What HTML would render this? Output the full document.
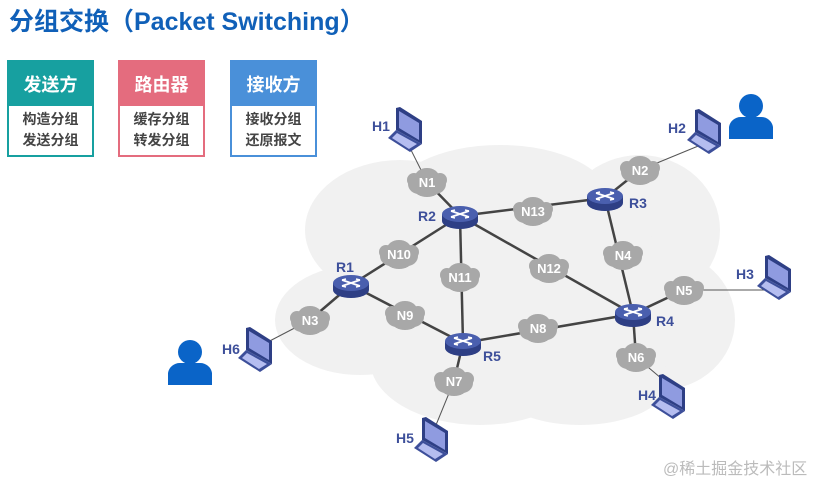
<!DOCTYPE html>
<html><head><meta charset="utf-8"><style>
html,body{margin:0;padding:0;background:#fff;}
body{width:837px;height:497px;overflow:hidden;font-family:"Liberation Sans","Noto Sans CJK SC",sans-serif;}
</style></head><body>
<svg width="837" height="497" viewBox="0 0 837 497" xmlns="http://www.w3.org/2000/svg" font-family="Liberation Sans, Noto Sans CJK SC, sans-serif">
<defs>
<g id="cl">
<ellipse cx="-8" cy="2" rx="11" ry="10" fill="#a8a8a8"/>
<ellipse cx="8" cy="2" rx="11" ry="10" fill="#a8a8a8"/>
<ellipse cx="0" cy="-5" rx="12" ry="9" fill="#a8a8a8"/>
<ellipse cx="0" cy="7" rx="13" ry="8" fill="#a8a8a8"/>
<ellipse cx="-13" cy="-2" rx="7" ry="7" fill="#a8a8a8"/>
<ellipse cx="13" cy="-2" rx="7" ry="7" fill="#a8a8a8"/>
</g>
<g id="rt">
<path d="M-18 0 v7 a18 8 0 0 0 36 0 v-7z" fill="#2e3f85"/>
<ellipse cx="0" cy="0" rx="18" ry="8" fill="#4a5fae"/>
<path d="M-9 -3 L9 3 M-9 3 L9 -3" stroke="#fff" stroke-width="1.8"/>
<path d="M9 -3 l-4 -1 M9 3 l-4 1 M-9 -3 l4 -1 M-9 3 l4 1" stroke="#fff" stroke-width="1.5"/>
</g>
<g id="lp">
<path d="M-10 -22 L-6 -23 L16 -9 L16 14 L-10 0 Z" fill="#2e3f85"/>
<path d="M-7 -19 L13 -7 L13 10 L-7 -2 Z" fill="#8f9be0"/>
<path d="M-10 0 L16 14 L4 22 L-18 8 Z" fill="#3d4f9a"/>
<path d="M-9 3 L11 14 L3 19 L-14 8 Z" fill="#b5bdf0"/>
</g>
<g id="ps">
<circle cx="0" cy="-11" r="12" fill="#0a64c8"/>
<path d="M-22 22 v-12 a12 12 0 0 1 12 -10 h20 a12 12 0 0 1 12 10 v12 z" fill="#0a64c8"/>
</g>
</defs>

<text x="9" y="30" font-size="25" font-weight="bold" fill="#1060b8">分组交换（Packet Switching）</text>

<rect x="8" y="61" width="85" height="95" fill="#fff" stroke="#17a0a0" stroke-width="2"/>
<rect x="8" y="61" width="85" height="45" fill="#17a0a0"/>
<text x="50.5" y="91" font-size="18" font-weight="bold" fill="#fff" text-anchor="middle">发送方</text>
<text x="50.5" y="124" font-size="14" font-weight="bold" fill="#444" text-anchor="middle">构造分组</text>
<text x="50.5" y="145" font-size="14" font-weight="bold" fill="#444" text-anchor="middle">发送分组</text>

<rect x="119" y="61" width="85" height="95" fill="#fff" stroke="#e46c7e" stroke-width="2"/>
<rect x="119" y="61" width="85" height="45" fill="#e46c7e"/>
<text x="161.5" y="91" font-size="18" font-weight="bold" fill="#fff" text-anchor="middle">路由器</text>
<text x="161.5" y="124" font-size="14" font-weight="bold" fill="#444" text-anchor="middle">缓存分组</text>
<text x="161.5" y="145" font-size="14" font-weight="bold" fill="#444" text-anchor="middle">转发分组</text>

<rect x="231" y="61" width="85" height="95" fill="#fff" stroke="#4a90d9" stroke-width="2"/>
<rect x="231" y="61" width="85" height="45" fill="#4a90d9"/>
<text x="273.5" y="91" font-size="18" font-weight="bold" fill="#fff" text-anchor="middle">接收方</text>
<text x="273.5" y="124" font-size="14" font-weight="bold" fill="#444" text-anchor="middle">接收分组</text>
<text x="273.5" y="145" font-size="14" font-weight="bold" fill="#444" text-anchor="middle">还原报文</text>

<g fill="#f1f1f1">
<ellipse cx="400" cy="230" rx="95" ry="70"/>
<ellipse cx="500" cy="200" rx="110" ry="55"/>
<ellipse cx="640" cy="230" rx="80" ry="75"/>
<ellipse cx="660" cy="320" rx="75" ry="70"/>
<ellipse cx="360" cy="320" rx="85" ry="55"/>
<ellipse cx="480" cy="360" rx="110" ry="65"/>
<ellipse cx="580" cy="380" rx="90" ry="45"/>
<ellipse cx="520" cy="280" rx="150" ry="90"/>
</g>

<g stroke="#444" stroke-width="2.5">
<line x1="427" y1="182" x2="460" y2="216"/>
<line x1="460" y1="216" x2="605" y2="198"/>
<line x1="605" y1="198" x2="640" y2="170"/>
<line x1="460" y1="216" x2="351" y2="285"/>
<line x1="460" y1="216" x2="463" y2="343"/>
<line x1="460" y1="216" x2="633" y2="314"/>
<line x1="605" y1="198" x2="633" y2="314"/>
<line x1="633" y1="314" x2="684" y2="290"/>
<line x1="633" y1="314" x2="636" y2="357"/>
<line x1="351" y1="285" x2="463" y2="343"/>
<line x1="351" y1="285" x2="310" y2="320"/>
<line x1="463" y1="343" x2="633" y2="314"/>
<line x1="463" y1="343" x2="454" y2="381"/>
</g>
<g stroke="#555" stroke-width="1">
<line x1="427" y1="182" x2="410" y2="148"/>
<line x1="640" y1="170" x2="708" y2="142"/>
<line x1="684" y1="290" x2="765" y2="290"/>
<line x1="636" y1="357" x2="668" y2="384"/>
<line x1="310" y1="320" x2="262" y2="345"/>
<line x1="454" y1="381" x2="436" y2="425"/>
</g>

<g font-size="13" fill="#fff" text-anchor="middle" font-weight="bold">
<use href="#cl" x="427" y="182"/><text x="427" y="187">N1</text>
<use href="#cl" x="640" y="170"/><text x="640" y="175">N2</text>
<use href="#cl" x="533" y="211"/><text x="533" y="216">N13</text>
<use href="#cl" x="399" y="254"/><text x="399" y="259">N10</text>
<use href="#cl" x="460" y="277"/><text x="460" y="282">N11</text>
<use href="#cl" x="549" y="268"/><text x="549" y="273">N12</text>
<use href="#cl" x="623" y="255"/><text x="623" y="260">N4</text>
<use href="#cl" x="684" y="290"/><text x="684" y="295">N5</text>
<use href="#cl" x="405" y="315"/><text x="405" y="320">N9</text>
<use href="#cl" x="310" y="320"/><text x="310" y="325">N3</text>
<use href="#cl" x="538" y="328"/><text x="538" y="333">N8</text>
<use href="#cl" x="636" y="357"/><text x="636" y="362">N6</text>
<use href="#cl" x="454" y="381"/><text x="454" y="386">N7</text>
</g>

<use href="#rt" x="460" y="214"/>
<use href="#rt" x="605" y="196"/>
<use href="#rt" x="351" y="283"/>
<use href="#rt" x="463" y="341"/>
<use href="#rt" x="633" y="312"/>
<g font-size="14" font-weight="bold" fill="#3d4f9a">
<text x="418" y="221">R2</text>
<text x="629" y="208">R3</text>
<text x="336" y="272">R1</text>
<text x="483" y="361">R5</text>
<text x="656" y="326">R4</text>
<text x="372" y="131">H1</text>
<text x="668" y="133">H2</text>
<text x="736" y="279">H3</text>
<text x="222" y="354">H6</text>
<text x="638" y="400">H4</text>
<text x="396" y="443">H5</text>
</g>

<use href="#lp" x="406" y="130"/>
<use href="#lp" x="705" y="132"/>
<use href="#lp" x="775" y="278"/>
<use href="#lp" x="256" y="350"/>
<use href="#lp" x="669" y="397"/>
<use href="#lp" x="432" y="440"/>

<use href="#ps" x="751" y="117"/>
<use href="#ps" x="190" y="363"/>

<text x="663" y="474" font-size="16" fill="#bbb">@稀土掘金技术社区</text>
</svg>
</body></html>
